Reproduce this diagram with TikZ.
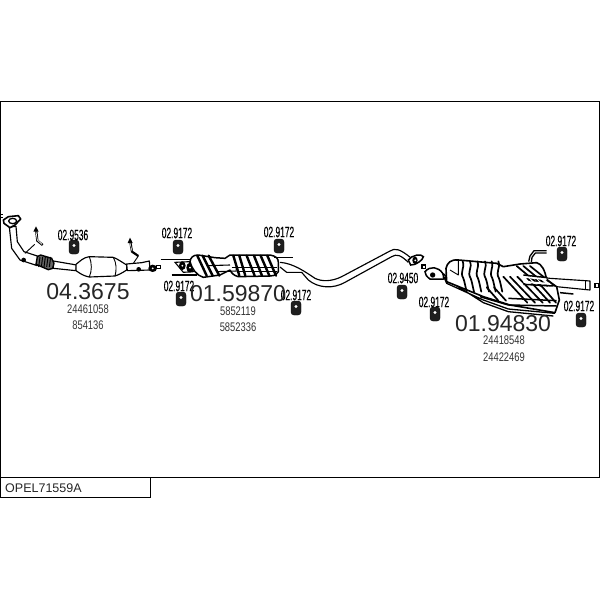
\documentclass[tikz,border=0pt]{standalone}
\usepackage{fontspec}
\usepackage{graphicx}
\setmainfont{Liberation Sans}
\newfontfamily\partfont[FakeBold=0.5]{Liberation Sans}
\usetikzlibrary{calc}
\tikzset{
  x=1pt,y=-1pt,
  frameline/.style={draw=black,line width=1pt},
  bigtxt/.style={inner sep=0,text=black!85,font=\fontsize{23}{23}\selectfont},
  reftxt/.style={inner sep=0,text=black!80,font=\fontsize{12.5}{12.5}\selectfont},
  parttxt/.style={inner sep=0,text=black,font=\partfont\fontsize{15}{15}\selectfont},
  pipeline/.style={draw=black,line width=1.15pt,line join=round,fill=white},
  thin outline/.style={draw=black,line width=.9pt,line join=round},
  stripe/.style={draw=black,line width=1.7pt,line cap=round},
  fat/.style={draw=black,line width=1.5pt},
  rub/.style={fill=black!88,draw=black,rounded corners=3pt,line width=.4pt},
  zone/.style={scale=0.33333}
}
\newcommand{\partlabel}[3]{\node[parttxt] (#3) at (#1) {\scalebox{.56}[1]{#2}};}
\newcommand{\reflabel}[3]{\node[reftxt] (#3) at (#1) {\scalebox{.75}[1]{#2}};}
\newcommand{\grommet}[1]{%
  \path[rub] ($(#1)+(-5,-7)$) rectangle ($(#1)+(5,7)$);
  \fill[white] ($(#1)+(0,-1.5)$) ellipse (1.7 and 1.6);}
\begin{document}
\begin{tikzpicture}
\useasboundingbox (0,0) rectangle (600,600);
\fill[white] (0,0) rectangle (600,600);
\draw[frameline] (0,101.5) -- (600,101.5);
\draw[frameline] (.5,101.5) -- (.5,497);
\draw[frameline] (599.5,101.5) -- (599.5,477);
\draw[frameline] (0,477) -- (600,477);
\draw[frameline] (0,497) -- (150,497) -- (150,477);
\node[inner sep=0,anchor=west,font=\fontsize{12.5}{12.5}\selectfont,text=black!85] (code) at (5,488.5) {OPEL71559A};

% front pipe and catalyst
\begin{scope}[shift={(0,205)},zone]
\fill[black] (0,28) rectangle (10,38);
\fill[white] (3,31) rectangle (8,36);
\draw[pipeline] (28,66) -- (35,130) -- (60,165) -- (112,182) -- (118,155) -- (72,140) -- (52,110) -- (48,64) -- cycle;
\fill[black] (71,165) circle (7);
\draw[pipeline,line width=1.6pt] (10,45) -- (25,35) -- (55,32) -- (62,42) -- (45,60) -- (30,68) -- (12,55) -- cycle;
\filldraw[fill=white,draw=black,line width=1.3pt] (38,48) ellipse (12 and 8);
\draw[thin outline] (75,145) -- (104,118);
% pipe to cat and flex
\draw[pipeline] (160,168) -- (230,180) -- (228,197) -- (160,190) -- cycle;
\filldraw[fill=black!60,draw=black,line width=1.4pt] (112,155) -- (122,150) -- (155,160) -- (162,175) -- (158,190) -- (145,194) -- (108,178) -- cycle;
\foreach \t in {120,128,...,152}{\draw[black,line width=1pt] (\t,156) -- (\t-4,186);}
% catalyst
\draw[pipeline] (228,178) .. controls (240,169) and (250,157) .. (268,155) -- (340,157) .. controls (355,163) and (368,173) .. (380,180) -- (380,195) .. controls (368,203) and (355,210) .. (345,213) -- (268,216) .. controls (250,213) and (240,205) .. (228,197) -- cycle;
\draw[thin outline] (268,155) .. controls (276,175) and (276,197) .. (268,216);
\draw[thin outline] (340,157) .. controls (350,175) and (350,195) .. (345,213);
\draw[pipeline] (380,177) -- (425,173) -- (448,168) -- (450,195) -- (382,197) -- cycle;
\fill[black] (416,193) circle (7);
\fill[black] (458,190) ellipse (13 and 11);
\fill[white] (458,190) circle (3);
\filldraw[fill=white,draw=black,line width=1.2pt] (470,181) rectangle (482,191);
% oxygen hangers
\draw[black,line width=2.3pt] (108,72) -- (112,107) -- (128,120);
\fill[black] (108,64) -- (100,80) -- (116,80) -- cycle;
\draw[white,line width=.7pt] (108,80) -- (112,105) -- (126,118);
\draw[black,line width=2.2pt] (390,105) -- (396,140) -- (415,153);
\fill[black] (390,98) -- (383,114) -- (398,114) -- cycle;
\draw[white,line width=.6pt] (390,114) -- (396,138);
\draw[thin outline] (415,153) -- (400,175);
\end{scope}

% centre muffler
\begin{scope}[shift={(170,245)},zone]
\draw[fat] (-28,43) -- (65,43);
\draw[fat] (5,90) -- (80,90);
\filldraw[fill=white,draw=black,line width=1.1pt] (15,52) -- (58,50) -- (70,80) -- (40,82) -- cycle;
\fill[black] (37,62) ellipse (10 and 13);
\fill[white] (37,62) circle (3);
\fill[black] (60,68) ellipse (11 and 15);
\fill[white] (60,68) circle (3);
\draw[pipeline,line width=1.5pt] (60,50) .. controls (62,38) and (68,30) .. (85,30) -- (135,38) -- (165,40) -- (180,30) -- (300,30) .. controls (318,33) and (325,40) .. (325,52) -- (325,80) .. controls (322,88) and (315,92) .. (300,93) -- (205,95) .. controls (192,92) and (185,85) .. (180,75) -- (150,90) -- (100,97) .. controls (80,92) and (65,70) .. (60,50) -- cycle;
\foreach \a/\b in {82/110,98/128,116/148,190/208,208/226,230/254,252/276,272/298,292/318}{\draw[stripe,line width=2.4pt] (\a,32) -- (\b,92);}
\draw[thin outline,line width=1.1pt] (110,62) -- (180,60);
\draw[thin outline,line width=1.1pt] (140,80) -- (200,78);
\draw[fat] (185,68) -- (322,68);
\draw[fat] (200,80) -- (322,80);
\draw[fill=black] (200,72) circle (3);
\draw[fat] (312,37) -- (370,37);
\end{scope}

% intermediate pipe
\begin{scope}[shift={(280,225)},zone]
\draw[pipeline,fill=none] (0,112) .. controls (40,115) and (75,140) .. (105,160) .. controls (125,170) and (155,170) .. (185,155) -- (330,78) .. controls (345,68) and (360,72) .. (392,98);
\draw[pipeline,fill=none] (0,126) -- (20,142) -- (65,142) -- (85,165) .. controls (115,190) and (160,192) .. (195,172) -- (335,95) .. controls (350,86) and (362,90) .. (385,112);
\filldraw[fill=white,draw=black,line width=1.5pt] (385,105) .. controls (395,90) and (425,85) .. (430,95) .. controls (430,105) and (405,122) .. (392,120) -- cycle;
\fill[black] (405,106) ellipse (8 and 11);
\fill[white] (406,106) circle (3);
\filldraw[fill=white,draw=black,line width=1.2pt] (425,120) rectangle (436,131);
\end{scope}

% rear muffler
\begin{scope}[shift={(440,250)},zone]
% tail pipes
\draw[pipeline,fill=none,line width=1.3pt] (320,2) -- (282,2) -- (270,18) -- (266,35) (320,9) -- (286,9) -- (276,22) -- (274,37);
\draw[pipeline] (250,75) -- (330,85) -- (450,93) -- (450,120) -- (350,110) -- (250,103) -- cycle;
\draw[thin outline] (435,93) -- (435,120);
\filldraw[fill=white,draw=black,line width=1.2pt] (465,101) rectangle (476,112);
\draw[fat] (360,128) -- (400,132);
% inlet
\filldraw[fill=white,draw=black,line width=1.5pt] (-45,65) .. controls (-30,47) and (-5,50) .. (8,70) -- (20,80) -- (10,87) -- (-30,87) .. controls (-40,80) and (-45,73) .. (-45,65) -- cycle;
\fill[black] (-22,75) circle (8);
\filldraw[fill=white,draw=black,line width=1.2pt] (-54,45) rectangle (-43,56);
% rails
\draw[pipeline,fill=none,line width=1.3pt] (8,72) -- (20,100) -- (130,150) -- (205,177) -- (345,190) (8,80) -- (130,158) -- (205,185) -- (340,198);
% body
\draw[pipeline,line width=1.6pt] (18,55) .. controls (22,38) and (32,28) .. (55,30) -- (170,40) -- (190,50) -- (240,42) -- (290,38) .. controls (305,42) and (315,60) .. (320,90) -- (350,110) -- (358,150) -- (345,188) -- (210,165) -- (130,140) -- (20,95) -- cycle;
\draw[thin outline] (30,60) -- (55,75) -- (55,30);
\foreach \a in {68,90,112,135,155,175}{\draw[stripe] (\a,34) .. controls (\a+8,55) and (\a-10,65) .. (\a+2,85) .. controls (\a+6,95) and (\a+8,110) .. (\a+12,125);}
\foreach \a/\b in {230/302,250/322,270/345}{\draw[stripe] (\a,48) -- (\b,108);}
\foreach \a/\b in {190/262,210/285,232/308,258/330,280/348}{\draw[stripe] (\a,80) -- (\b,158);}
\foreach \a/\b in {140/175,162/198}{\draw[stripe] (\a,112) -- (\b,152);}
\draw[white,line width=2pt] (250,80) -- (320,88) (250,95) -- (330,102);
\draw[black,line width=1.5pt] (250,75) -- (322,83);
\draw[black,line width=1.5pt] (250,103) -- (340,108);
\draw[black,line width=1.5pt] (205,145) -- (350,152);
\draw[black,line width=1.5pt] (205,165) -- (350,168);
\draw[fat] (120,140) -- (205,165);
\end{scope}

% grommets and part numbers
\grommet{74,247}
\grommet{178,247}
\grommet{279,246}
\grommet{181,299}
\grommet{296,308}
\grommet{402,292}
\grommet{562,254}
\grommet{435,314}
\grommet{581,320}
\partlabel{73,235}{02.9536}{pa}
\partlabel{177,233}{02.9172}{pb}
\partlabel{279,232}{02.9172}{pc}
\partlabel{179,286}{02.9172}{pd}
\partlabel{296,295}{02.9172}{pe}
\partlabel{403,278}{02.9450}{pf}
\partlabel{561,241}{02.9172}{pg}
\partlabel{434,302}{02.9172}{ph}
\partlabel{579,306}{02.9172}{pi}

\node[bigtxt] (ma) at (88,292) {04.3675};
\node[bigtxt] (mb) at (238,294) {01.59870};
\node[bigtxt] (mc) at (503,324) {01.94830};
\reflabel{88,309}{24461058}{ra}
\reflabel{88,325}{854136}{rb}
\reflabel{238,311}{5852119}{rc}
\reflabel{238,327}{5852336}{rd}
\reflabel{504,340}{24418548}{re}
\reflabel{504,357}{24422469}{rf}
\end{tikzpicture}
\end{document}
